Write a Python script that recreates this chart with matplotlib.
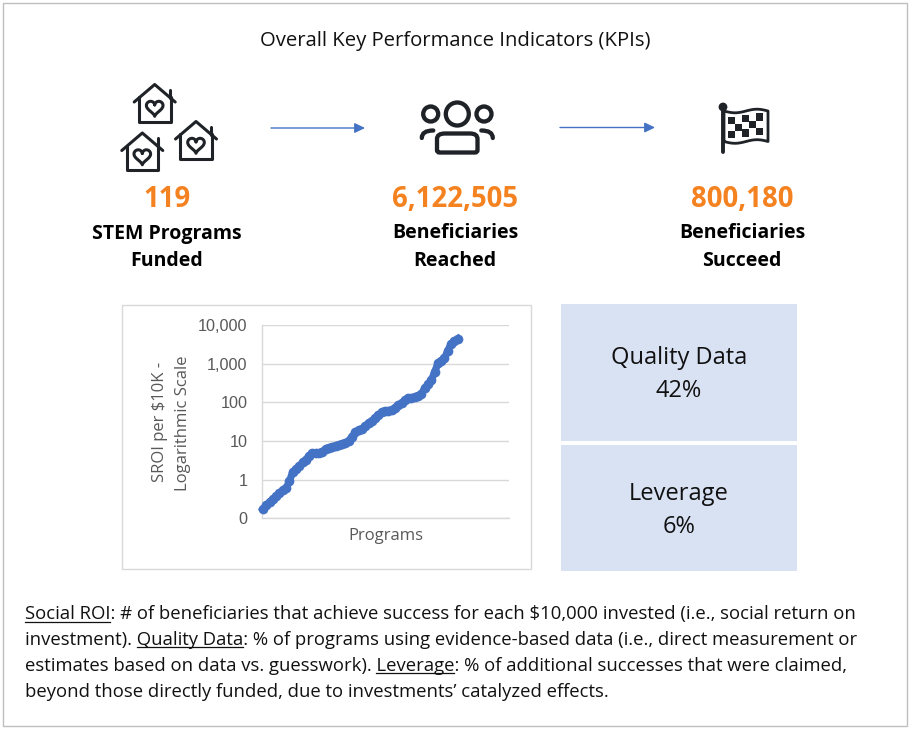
import numpy as np
import matplotlib
matplotlib.use("Agg")
import matplotlib.pyplot as plt
from matplotlib.patches import Rectangle, Circle, PathPatch
from matplotlib.path import Path
from matplotlib.ticker import NullLocator

# ---------- data ----------
title = "Overall Key Performance Indicators (KPIs)"
kpi_values = ["119", "6,122,505", "800,180"]
kpi_labels = ["STEM Programs\nFunded", "Beneficiaries\nReached", "Beneficiaries\nSucceed"]
box_labels = ["Quality Data\n42%", "Leverage\n6%"]
y_ticks = [0.1, 1, 10, 100, 1000, 10000]
y_tick_labels = ["0", "1", "10", "100", "1,000", "10,000"]
sroi = [0.173, 0.22, 0.26, 0.31, 0.37, 0.45, 0.53, 0.60, 0.90, 1.6,
        1.85, 2.2, 2.8, 3.3, 4.2, 5.0, 5.0, 5.0, 5.3, 6.4,
        6.8, 7.2, 7.6, 8.1, 8.5, 9.1, 10.2, 12.9, 17.4, 19.6,
        20.8, 24.8, 29.6, 33, 40, 47, 57, 60, 62, 64,
        72, 86, 97, 115, 130, 130, 141, 150, 165, 235,
        295, 375, 610, 1030, 1190, 1390, 2200, 3300, 3950, 4500]
foot_lines = [
    "Social ROI: # of beneficiaries that achieve success for each $10,000 invested (i.e., social return on",
    "investment). Quality Data: % of programs using evidence-based data (i.e., direct measurement or",
    "estimates based on data vs. guesswork). Leverage: % of additional successes that were claimed,",
    "beyond those directly funded, due to investments\u2019 catalyzed effects.",
]
foot_underlined = ["Social ROI", "Quality Data", "Leverage", None]

# ---------- style ----------
FONT = "Open Sans"
plt.rcParams["font.family"] = [FONT, "DejaVu Sans"]
BLUE = "#4472C4"
ORANGE = "#F58220"
INK = "#1F2328"
GREY = "#595959"
W, H = 912, 731

fig = plt.figure(figsize=(W / 100, H / 100), dpi=100, facecolor="white")
bg = fig.add_axes([0, 0, 1, 1])
bg.set_xlim(0, W)
bg.set_ylim(H, 0)
bg.axis("off")

# frames and boxes
bg.add_patch(Rectangle((3, 3), 904, 723, fc="white", ec="#BFBFBF", lw=1))
bg.add_patch(Rectangle((122, 305), 409, 264, fc="white", ec="#D9D9D9", lw=1))
bg.add_patch(Rectangle((561, 304), 236, 137, fc="#D9E2F3", ec="none"))
bg.add_patch(Rectangle((561, 445), 236, 126, fc="#D9E2F3", ec="none"))

bg.text(455.5, 41, title, ha="center", va="center", fontsize=14.55, color="#111111")

# KPI text
for cx, v, lab in zip([167, 455, 742], kpi_values, kpi_labels):
    bg.text(cx, 199.5, v, ha="center", va="center", fontsize=19.8, fontweight="bold", color=ORANGE)
    a, b = lab.split("\n")
    bg.text(cx, 233.5, a, ha="center", va="center", fontsize=14, fontweight="bold", color="black")
    bg.text(cx, 261.5, b, ha="center", va="center", fontsize=14, fontweight="bold", color="black")

# box text
for (yc1, yc2), lab in zip([(358, 391), (494, 527)], box_labels):
    a, b = lab.split("\n")
    bg.text(679, yc1, a, ha="center", va="center", fontsize=17, color="#111111")
    bg.text(679, yc2, b, ha="center", va="center", fontsize=17, color="#111111")

# arrows
for x0, x1, y in [(271, 365, 128), (560, 655, 127.5)]:
    bg.annotate("", xy=(x1, y), xytext=(x0, y),
                arrowprops=dict(arrowstyle="-|>,head_length=0.62,head_width=0.3",
                                color=BLUE, lw=1, shrinkA=0, shrinkB=0))

# ---------- icons ----------
def house(cx, top):
    lw = 2.2
    t = np.linspace(0, 2 * np.pi, 60)
    hx = 16 * np.sin(t) ** 3
    hy = 13 * np.cos(t) - 5 * np.cos(2 * t) - 2 * np.cos(3 * t) - np.cos(4 * t)
    kw = dict(color=INK, lw=lw, solid_capstyle="round", solid_joinstyle="round")
    bg.plot([cx - 20.5, cx, cx + 20.5], [top + 17.5, top, top + 17.5], **kw)
    bg.plot([cx - 15.5, cx - 15.5, cx + 16, cx + 16], [top + 12.5, top + 37, top + 37, top + 12.5], **kw)
    bg.plot([cx + 15.5, cx + 15.5], [top + 5, top + 13], **kw)
    bg.plot(cx + hx * 0.52, top + 23 - hy * 0.52, **kw)

house(154.7, 84.5)
house(196, 121.5)
house(142.3, 133)

def people():
    lw = 3.1
    for cx, r in [(430.7, 7.5), (457.3, 11.5), (484, 7.5)]:
        bg.add_patch(Circle((cx, 114), r, fc="none", ec=INK, lw=lw))
    verts = [(437, 150), (437, 139), (437, 133.5), (445, 133.5), (470, 133.5),
             (477.5, 133.5), (477.5, 139), (477.5, 150), (477.5, 152.5), (475, 152.5),
             (439.5, 152.5), (437, 152.5), (437, 150)]
    codes = [Path.MOVETO, Path.LINETO, Path.CURVE3, Path.CURVE3, Path.LINETO,
             Path.CURVE3, Path.CURVE3, Path.LINETO, Path.CURVE3, Path.CURVE3,
             Path.LINETO, Path.CURVE3, Path.CURVE3]
    bg.add_patch(PathPatch(Path(verts, codes), fc="none", ec=INK, lw=lw, capstyle="round"))
    for s in (-1, 1):
        v = [(457.3 + s * 35.5, 138), (457.3 + s * 35.5, 130.5), (457.3 + s * 24, 130.5)]
        bg.add_patch(PathPatch(Path(v, [Path.MOVETO, Path.CURVE3, Path.CURVE3]),
                               fc="none", ec=INK, lw=lw, capstyle="round"))

people()

def flag():
    x0, x1 = 724.0, 768.0
    wave = lambda x: 1.8 * np.sin((x - x0) / (x1 - x0) * 2 * np.pi)
    xs = np.linspace(x0, x1, 40)
    top, bot = 111, 141.5
    ox = np.r_[xs, xs[::-1], xs[0]]
    oy = np.r_[top + wave(xs), bot + wave(xs[::-1]), top]
    bg.plot(ox, oy, color=INK, lw=2.0, solid_joinstyle="round")
    bg.plot([723.3, 723.3], [107, 152], color=INK, lw=2.8, solid_capstyle="round")
    bg.add_patch(Circle((723, 107), 4.4, fc=INK, ec="none"))
    for i in range(5):
        cx = 728.5 + 7 * i
        for j in range(3):
            if (i + j) % 2 == 0:
                yy = 115 + j * 7.2 + wave(cx + 3.5)
                bg.add_patch(Rectangle((cx, yy), 7, 7.2, fc=INK, ec="none"))

flag()

# ---------- embedded chart ----------
ax = fig.add_axes([262.3 / W, 1 - 518.3 / H, (509.3 - 262.3) / W, (518.3 - 325.3) / H])
ax.patch.set_alpha(0)
ax.set_yscale("log")
ax.set_ylim(0.1, 10000)
n = len(sroi)
step = (457.7 - 263) / (n - 1)
ax.set_xlim(-0.7 / step, (509.3 - 263) / step)
ax.plot(np.arange(n), sroi, "-o", color=BLUE, lw=5.2, ms=7, mew=0, clip_on=False, zorder=3)
ax.set_yticks(y_ticks)
ax.set_yticklabels(y_tick_labels, family="Liberation Sans", fontsize=11.7, color=GREY)
ax.yaxis.set_minor_locator(NullLocator())
ax.set_xticks([])
ax.tick_params(axis="y", length=0, pad=10.5)
ax.grid(axis="y", color="#D9D9D9", lw=1)
ax.set_axisbelow(True)
for s in ("top", "right"):
    ax.spines[s].set_visible(False)
for s in ("left", "bottom"):
    ax.spines[s].set_color("#D9D9D9")
    ax.spines[s].set_linewidth(1)
bg.text(160, 422, "SROI per $10K -", rotation=90, ha="center", va="center", fontsize=12, color=GREY)
bg.text(183, 423, "Logarithmic Scale", rotation=90, ha="center", va="center", fontsize=12, color=GREY)
bg.text(386, 536, "Programs", ha="center", va="center", fontsize=12, color=GREY)

# ---------- footnote ----------
fs = 13.37
renderer = fig.canvas.get_renderer()

def width(s):
    t = bg.text(0, 0, s + ".", fontsize=fs)
    w = t.get_window_extent(renderer).width
    t.remove()
    t = bg.text(0, 0, ".", fontsize=fs)
    w -= t.get_window_extent(renderer).width
    t.remove()
    return w

for i, (line, u) in enumerate(zip(foot_lines, foot_underlined)):
    base = 619 + i * 25.9
    bg.text(25, base, line, ha="left", va="baseline", fontsize=fs, color="#111111")
    if u:
        k = line.index(u)
        x0 = 25 + width(line[:k]) if k else 25
        x1 = 25 + width(line[:k + len(u)])
        bg.plot([x0, x1], [base + 2.5, base + 2.5], color="#111111", lw=0.9)

bg.set_xlim(0, W)
bg.set_ylim(H, 0)
fig.savefig("out.png", dpi=100, facecolor="white")
